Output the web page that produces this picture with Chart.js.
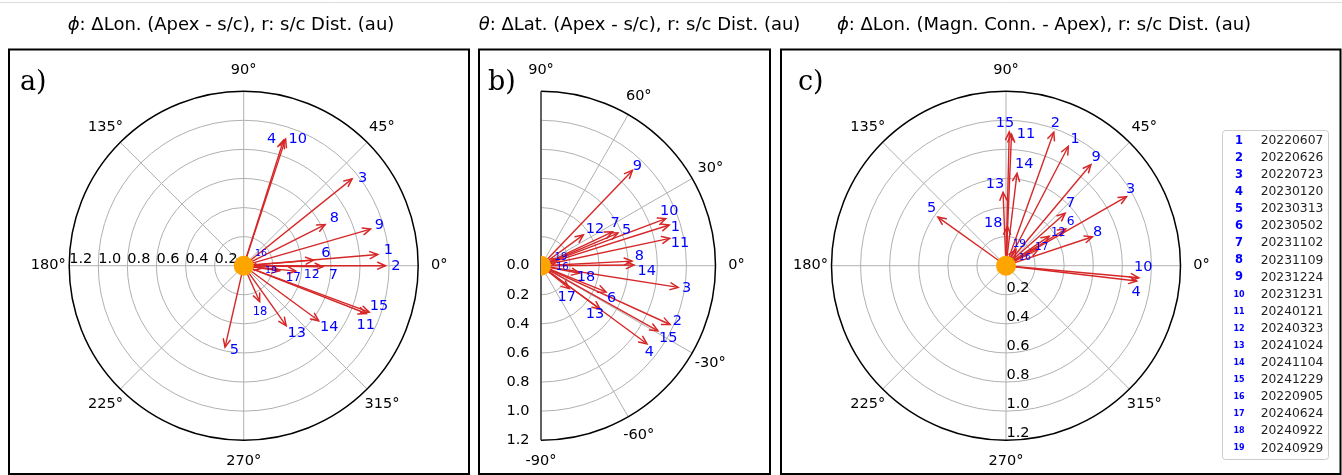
<!DOCTYPE html>
<html>
<head>
<meta charset="utf-8">
<script src="https://cdn.jsdelivr.net/npm/chart.js@4.4.0/dist/chart.umd.min.js"></script>
<style>
  body { margin: 0; background: #fff; width: 1342px; height: 475px; position: relative; overflow: hidden; }
  canvas { position: absolute; left: 0; top: 0; }
</style>
</head>
<body>
<canvas id="panelA" width="1342" height="475"></canvas>
<canvas id="panelB" width="1342" height="475"></canvas>
<canvas id="panelC" width="1342" height="475"></canvas>
<script>
// event numbers and dates (legend)
const eventIds = ['1','2','3','4','5','6','7','8','9','10','11','12','13','14','15','16','17','18','19'];
const eventDates = ['20220607','20220626','20220723','20230120','20230313','20230502','20231102','20231109',
  '20231224','20231231','20240121','20240323','20241024','20241104','20241229','20220905','20240624',
  '20240922','20240929'];

// spacecraft distance (au), shared radius of all three panels
const scDist = [0.925, 0.975, 0.955, 0.905, 0.575, 0.482, 0.544, 0.627, 0.908, 0.917,
  0.905, 0.36, 0.505, 0.64, 0.92, 0.06, 0.25, 0.27, 0.13];

// angles in degrees
const dLonApex = [4.8, 0, 38.7, 72.4, -102.9, 4.6, -0.8, 26.8, 16.1, 71.7,
  -21.3, -5.9, -54.7, -36.3, -20.3, 35, -8, -66, -7];
const dLatApex = [17.6, -24.5, -9, -36.4, 23, -22, 25.4, 2.9, 46.2, 20.7,
  12, 36, -36.2, 0.4, -29.1, -5, -39, -11, 20];
const dLonConn = [62.4, 70.3, 29.8, -6.7, 144.5, 31.6, 41.6, 18.5, 50, -5.2,
  87.6, 34.3, 92.3, 83.2, 88.6, 25, 27, 88, 58];

const rTicks = [0.2, 0.4, 0.6, 0.8, 1.0, 1.2];
const fullAngleTicks = [0, 45, 90, 135, 180, 225, 270, 315];
const halfAngleTicks = [90, 60, 30, 0, -30, -60, -90];
const R_MAX = 1.2;

const ARROW = '#d62728';
const LABEL = '#0000ff';
const SANS = '"DejaVu Sans", sans-serif';

function toXY(deg, r) {
  const t = deg * Math.PI / 180;
  return { x: r * Math.cos(t), y: r * Math.sin(t) };
}

function arrowSets(angles) {
  return angles.map((deg, i) => ({
    label: eventIds[i],
    data: [{ x: 0, y: 0 }, toXY(deg, scDist[i])],
    showLine: true,
    borderColor: ARROW,
    borderWidth: 1.4,
    pointRadius: 0,
    clip: false
  }));
}

function drawTitle(ctx, cx, y, sym, rest) {
  ctx.save();
  ctx.fillStyle = '#000';
  ctx.textBaseline = 'alphabetic';
  ctx.textAlign = 'left';
  const fi = 'italic 18px ' + SANS, fn = '18px ' + SANS;
  ctx.font = fi; const w1 = ctx.measureText(sym).width;
  ctx.font = fn; const w2 = ctx.measureText(rest).width;
  let x = cx - (w1 + w2) / 2;
  ctx.font = fi; ctx.fillText(sym, x, y);
  ctx.font = fn; ctx.fillText(rest, x + w1, y);
  ctx.restore();
}

const polarDecor = {
  id: 'polarDecor',
  beforeDatasetsDraw(chart, args, o) {
    const { ctx } = chart;
    const xs = chart.scales.x, ys = chart.scales.y;
    const cx = xs.getPixelForValue(0), cy = ys.getPixelForValue(0);
    const u = ys.getPixelForValue(0) - ys.getPixelForValue(1);
    const R = R_MAX * u;
    const a0 = o.half ? -Math.PI / 2 : 0, a1 = o.half ? Math.PI / 2 : Math.PI * 2;
    ctx.save();
    // page line, frame, title, letter
    if (o.topLine) {
      ctx.strokeStyle = '#dcdcdc'; ctx.lineWidth = 1;
      ctx.beginPath(); ctx.moveTo(0, 2.5); ctx.lineTo(1342, 2.5); ctx.stroke();
    }
    ctx.strokeStyle = '#000'; ctx.lineWidth = 2;
    const f = o.frame;
    ctx.strokeRect(f[0], f[1], f[2] - f[0], f[3] - f[1]);
    drawTitle(ctx, o.titleX, 29.5, o.titleSym, o.titleRest);
    ctx.fillStyle = '#000';
    ctx.font = '27px "DejaVu Serif", serif';
    ctx.textAlign = 'left'; ctx.textBaseline = 'alphabetic';
    ctx.fillText(o.letter, o.letterX, 90);

    // rings
    ctx.strokeStyle = '#b0b0b0'; ctx.lineWidth = 1;
    rTicks.slice(0, -1).forEach(r => {
      ctx.beginPath(); ctx.arc(cx, cy, r * u, a0, a1); ctx.stroke();
    });
    // spokes
    o.angles.forEach(d => {
      const t = d * Math.PI / 180;
      ctx.beginPath(); ctx.moveTo(cx, cy);
      ctx.lineTo(cx + R * Math.cos(t), cy - R * Math.sin(t)); ctx.stroke();
    });
    // outer boundary
    ctx.strokeStyle = '#000'; ctx.lineWidth = 1.5;
    ctx.beginPath(); ctx.arc(cx, cy, R, a0, a1); ctx.stroke();
    if (o.half) {
      ctx.strokeStyle = '#3a3a3a';
      ctx.beginPath(); ctx.moveTo(cx, cy - R); ctx.lineTo(cx, cy + R); ctx.stroke();
    }
    // angle labels
    ctx.fillStyle = '#000';
    ctx.font = '14.5px ' + SANS;
    ctx.textAlign = 'center'; ctx.textBaseline = 'middle';
    o.angles.forEach(d => {
      const t = d * Math.PI / 180, rr = R + 21;
      ctx.fillText(d + '°', cx + rr * Math.cos(t), cy - rr * Math.sin(t));
    });
    // radial labels
    const ticks = o.half ? [0].concat(rTicks) : rTicks;
    ticks.forEach(r => {
      const s = r.toFixed(1);
      if (o.rLabels === 'left') {
        ctx.textAlign = 'left'; ctx.textBaseline = 'alphabetic';
        ctx.fillText(s, cx - r * u, cy - 3);
      } else if (o.rLabels === 'down') {
        ctx.textAlign = 'left'; ctx.textBaseline = 'alphabetic';
        ctx.fillText(s, cx + 0.5, cy + r * u - 3);
      } else {
        ctx.textAlign = 'right'; ctx.textBaseline = 'middle';
        ctx.fillText(s, cx - 11.5, cy + r * u);
      }
    });
    ctx.restore();
  },
  afterDatasetsDraw(chart, args, o) {
    const { ctx } = chart;
    const xs = chart.scales.x, ys = chart.scales.y;
    const cx = xs.getPixelForValue(0), cy = ys.getPixelForValue(0);
    ctx.save();
    // arrow heads
    ctx.strokeStyle = ARROW; ctx.lineWidth = 1.5; ctx.lineCap = 'round';
    chart.data.datasets.forEach((ds, i) => {
      const pts = chart.getDatasetMeta(i).data;
      const p0 = pts[0], p1 = pts[1];
      const a = Math.atan2(p1.y - p0.y, p1.x - p0.x);
      const L = 8.5, phi = 0.42;
      ctx.beginPath();
      ctx.moveTo(p1.x - L * Math.cos(a - phi), p1.y - L * Math.sin(a - phi));
      ctx.lineTo(p1.x, p1.y);
      ctx.lineTo(p1.x - L * Math.cos(a + phi), p1.y - L * Math.sin(a + phi));
      ctx.stroke();
    });
    // source marker
    ctx.save();
    if (o.half) { ctx.beginPath(); ctx.rect(cx, 0, 2000, 2000); ctx.clip(); }
    ctx.fillStyle = '#ffa500';
    ctx.beginPath(); ctx.arc(cx, cy, 10, 0, Math.PI * 2); ctx.fill();
    ctx.restore();
    // event numbers
    ctx.fillStyle = LABEL;
    ctx.textAlign = 'center'; ctx.textBaseline = 'middle';
    chart.data.datasets.forEach((ds, i) => {
      const p1 = chart.getDatasetMeta(i).data[1];
      const n = o.nudge[i];
      const size = o.sizes[i] || 14.5;
      ctx.font = size + 'px ' + SANS;
      ctx.fillText(ds.label, p1.x + n[0], p1.y + n[1]);
    });
    // legend
    if (o.legend) {
      const lx = 1222.5, ly = 130.5, lw = 106, lh = 329;
      ctx.strokeStyle = '#cccccc'; ctx.lineWidth = 1; ctx.fillStyle = '#fff';
      ctx.beginPath(); ctx.roundRect(lx, ly, lw, lh, 3); ctx.fill(); ctx.stroke();
      eventIds.forEach((id, i) => {
        const y = 140.7 + i * 17.09;
        ctx.fillStyle = LABEL; ctx.textAlign = 'center'; ctx.textBaseline = 'middle';
        ctx.font = 'bold ' + (i < 9 ? '11.5px ' : '8px ') + SANS;
        ctx.fillText(id, 1239, y);
        ctx.fillStyle = '#222'; ctx.textAlign = 'left';
        ctx.font = '12.3px ' + SANS;
        ctx.fillText(eventDates[i], 1260.7, y);
      });
    }
    ctx.restore();
  }
};

function makePanel(id, angles, cx, cy, half, deco) {
  const R = R_MAX * 174.5 / 1.2;
  new Chart(document.getElementById(id), {
    type: 'scatter',
    data: { datasets: arrowSets(angles) },
    plugins: [polarDecor],
    options: {
      responsive: false,
      animation: false,
      devicePixelRatio: 1,
      events: [],
      layout: { padding: { left: half ? cx : cx - R, right: 1342 - (cx + R), top: cy - R, bottom: 475 - (cy + R) } },
      scales: {
        x: { type: 'linear', display: false, min: half ? 0 : -R_MAX, max: R_MAX },
        y: { type: 'linear', display: false, min: -R_MAX, max: R_MAX }
      },
      plugins: {
        legend: { display: false },
        tooltip: { enabled: false },
        polarDecor: Object.assign({ half: half }, deco)
      }
    }
  });
}

// label font sizes by event index (others 14.5px)
makePanel('panelA', dLonApex, 243.7, 265.7, false, {
  topLine: true,
  frame: [9, 49.5, 469, 474],
  titleX: 231, titleSym: 'ϕ', titleRest: ': ΔLon. (Apex - s/c), r: s/c Dist. (au)',
  letter: 'a)', letterX: 20,
  angles: fullAngleTicks, rLabels: 'left',
  sizes: { 11: 12.5, 15: 9.5, 16: 12, 17: 11.5, 18: 9.5 },
  nudge: [[10.6,-4.4],[10.5,1],[10.6,-0.6],[-11.8,-1],[9.3,2.8],[12.4,-6.8],[10.5,8.9],[9.2,-6.3],
    [8.8,-3.4],[12.1,0.2],[-0.6,11.5],[15.9,3.9],[10.6,7.7],[10.6,6.5],[9.8,-5.4],[10.2,-7.4],
    [13.6,7.5],[0.3,10.1],[8.5,2.3]]
});

makePanel('panelB', dLatApex, 541, 265.7, true, {
  frame: [479, 49.5, 770, 474],
  titleX: 639.5, titleSym: 'θ', titleRest: ': ΔLat. (Apex - s/c), r: s/c Dist. (au)',
  letter: 'b)', letterX: 488,
  angles: halfAngleTicks, rLabels: 'axis',
  sizes: { 15: 10, 18: 10 },
  nudge: [[6.1,2.7],[7.3,-2.8],[8.5,0.9],[2.4,8.9],[8.7,-3],[5.7,6.3],[2.6,-8.5],[7.2,-4.4],
    [4.9,-4.4],[3.5,-6.9],[10.3,5],[11.6,-5.6],[-5.2,4.9],[12.6,5.9],[10.4,7.5],[12.6,1.2],
    [-2.6,8.4],[6.4,4.1],[2.2,-1.9]]
});

makePanel('panelC', dLonConn, 1006, 265.7, false, {
  frame: [781, 49.5, 1340.5, 474],
  titleX: 1044, titleSym: 'ϕ', titleRest: ': ΔLon. (Magn. Conn. - Apex), r: s/c Dist. (au)',
  letter: 'c)', letterX: 798,
  angles: fullAngleTicks, rLabels: 'down', legend: true,
  sizes: { 5: 12.3, 11: 11.5, 15: 9.5, 16: 10.5, 18: 10.5 },
  nudge: [[6.7,-7.5],[1.5,-8.9],[4.2,-7.4],[-0.7,11.2],[-6.2,-8.9],[5,-6.7],[5.5,-9.9],[5.2,-4.5],
    [5.2,-6.9],[4.5,-10.1],[14.5,0.1],[9,-2.9],[-8.1,-8.1],[7.3,-9],[-4.3,-8.6],[11.1,-4.7],
    [3.3,-1.5],[-14.1,-3.1],[3.3,-5.4]]
});
</script>
</body>
</html>
